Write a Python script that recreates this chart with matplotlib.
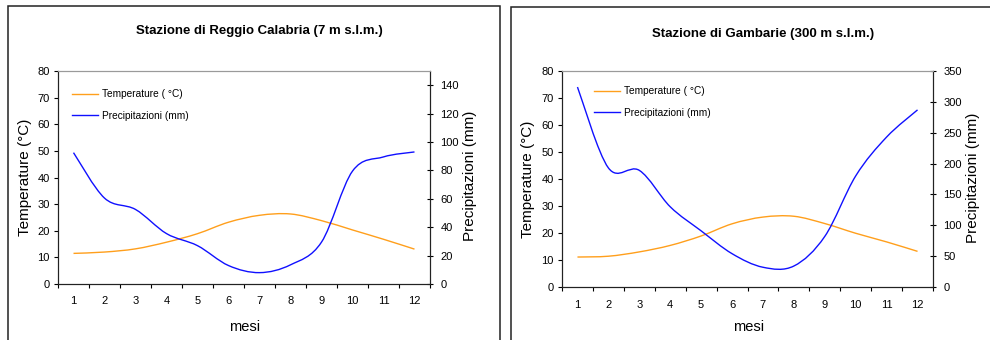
import numpy as np
import matplotlib
matplotlib.use("Agg")
import matplotlib.pyplot as plt
from matplotlib.path import Path
from matplotlib.patches import PathPatch, Rectangle
from matplotlib.lines import Line2D

plt.rcParams['font.family'] = ['Liberation Sans', 'DejaVu Sans']

mesi = [1, 2, 3, 4, 5, 6, 7, 8, 9, 10, 11, 12]

# Reggio Calabria (7 m s.l.m.)
temp_rc = [11.5, 12.0, 13.2, 15.7, 18.9, 23.2, 25.8, 26.3, 23.8, 20.3, 16.8, 13.1]
prec_rc = [92.5, 60.5, 52.5, 35.5, 27.0, 13.0, 8.0, 13.5, 29.5, 79.5, 89.5, 93.0]

# Gambarie (300 m s.l.m.)
temp_gb = [11.1, 11.4, 13.0, 15.4, 18.9, 23.4, 25.9, 26.2, 23.5, 19.9, 16.7, 13.2]
prec_gb = [324, 193, 189, 130, 91, 54, 32, 34, 82, 180, 243, 287]

ORANGE = '#FF9F1C'
BLUE = '#1010FF'


def smooth_path(x, y):
    # excel-like smoothed line: cubic bezier through every point
    x = np.asarray(x, float)
    y = np.asarray(y, float)
    p = np.column_stack([x, y])
    n = len(p)
    verts = [p[0]]
    codes = [Path.MOVETO]
    for i in range(n - 1):
        p0 = p[i - 1] if i > 0 else p[i]
        p3 = p[i + 2] if i + 2 < n else p[i + 1]
        c1 = p[i] + (p[i + 1] - p0) / 6.0
        c2 = p[i + 1] - (p3 - p[i]) / 6.0
        verts += [c1, c2, p[i + 1]]
        codes += [Path.CURVE4] * 3
    return Path(verts, codes)


def draw_chart(rect, title, title_xy, temp, prec, pmax, pstep, pticks_top,
               leg_anchor, ylab_x, mesi_y):
    W, H = 990.0, 340.0
    x0, y0, x1, y1 = rect
    ax = fig.add_axes([x0 / W, 1 - y1 / H, (x1 - x0) / W, (y1 - y0) / H])
    ax2 = ax.twinx()

    ax.set_xlim(0.5, 12.5)
    ax.set_ylim(0, 80)
    ax2.set_ylim(0, pmax)
    ax.set_yticks(np.arange(0, 81, 10))
    ax2.set_yticks(np.arange(0, pticks_top + 1, pstep))

    ax.set_xticks(np.arange(0.5, 12.6, 1))
    ax.set_xticklabels([])
    ax.set_xticks(mesi, minor=True)
    ax.set_xticklabels([str(m) for m in mesi], minor=True)
    ax.tick_params(axis='x', which='major', direction='out', length=3, width=0.8)
    ax.tick_params(axis='x', which='minor', length=0, pad=9, labelsize=8)
    ax.tick_params(axis='y', direction='out', length=3, width=0.8, labelsize=8, pad=3)
    ax2.tick_params(axis='y', direction='inout', length=5, width=0.8, labelsize=8, pad=5)

    for a in (ax, ax2):
        a.spines['top'].set_color('#9a9a9a')
        for s in ('left', 'right', 'bottom'):
            a.spines[s].set_color('#222222')
            a.spines[s].set_linewidth(0.8)

    ax.add_patch(PathPatch(smooth_path(mesi, temp), fill=False, edgecolor=ORANGE,
                           lw=1.0, transform=ax.transData))
    ax2.add_patch(PathPatch(smooth_path(mesi, prec), fill=False, edgecolor=BLUE,
                            lw=1.0, transform=ax2.transData))

    handles = [Line2D([], [], color=ORANGE, lw=1.0), Line2D([], [], color=BLUE, lw=1.0)]
    ax.legend(handles, ['Temperature ( \u00b0C)', 'Precipitazioni (mm)'], loc='upper left',
              bbox_to_anchor=leg_anchor, frameon=False, fontsize=7.3,
              handlelength=2.6, handletextpad=0.35, labelspacing=1.15, borderpad=0,
              borderaxespad=0)

    ax.set_ylabel('Temperature (\u00b0C)', fontsize=11, va='center')
    ax.yaxis.set_label_coords(ylab_x[0], 0.5)
    ax2.set_ylabel('Precipitazioni (mm)', fontsize=11, va='center')
    ax2.yaxis.set_label_coords(ylab_x[1], 0.507)
    ax.set_xlabel('mesi', fontsize=10.5, va='center')
    ax.xaxis.set_label_coords(0.502, mesi_y)

    fig.text(title_xy[0] / W, 1 - title_xy[1] / H, title, ha='center', va='center',
             fontsize=9.5, fontweight='bold')


fig = plt.figure(figsize=(9.9, 3.4), dpi=100)

# panel frames
fig.add_artist(Rectangle((7.5 / 990, -0.1), (499.5 - 7.5) / 990, 1.1 - 6.5 / 340,
                         transform=fig.transFigure, fill=False, edgecolor='#222222', lw=1.1))
fig.add_artist(Rectangle((511 / 990, -0.1), 0.5, 1.1 - 7 / 340,
                         transform=fig.transFigure, fill=False, edgecolor='#222222', lw=1.1))

draw_chart((58, 71, 430, 284), 'Stazione di Reggio Calabria (7 m s.l.m.)', (259, 31),
           temp_rc, prec_rc, 150, 20, 140, (0.038, 0.915), (-0.089, 1.108), -0.20)
draw_chart((562, 71, 933, 287), 'Stazione di Gambarie (300 m s.l.m.)', (763, 34),
           temp_gb, prec_gb, 350, 50, 350, (0.086, 0.93), (-0.092, 1.107), -0.185)

fig.savefig('out.png', dpi=100)
